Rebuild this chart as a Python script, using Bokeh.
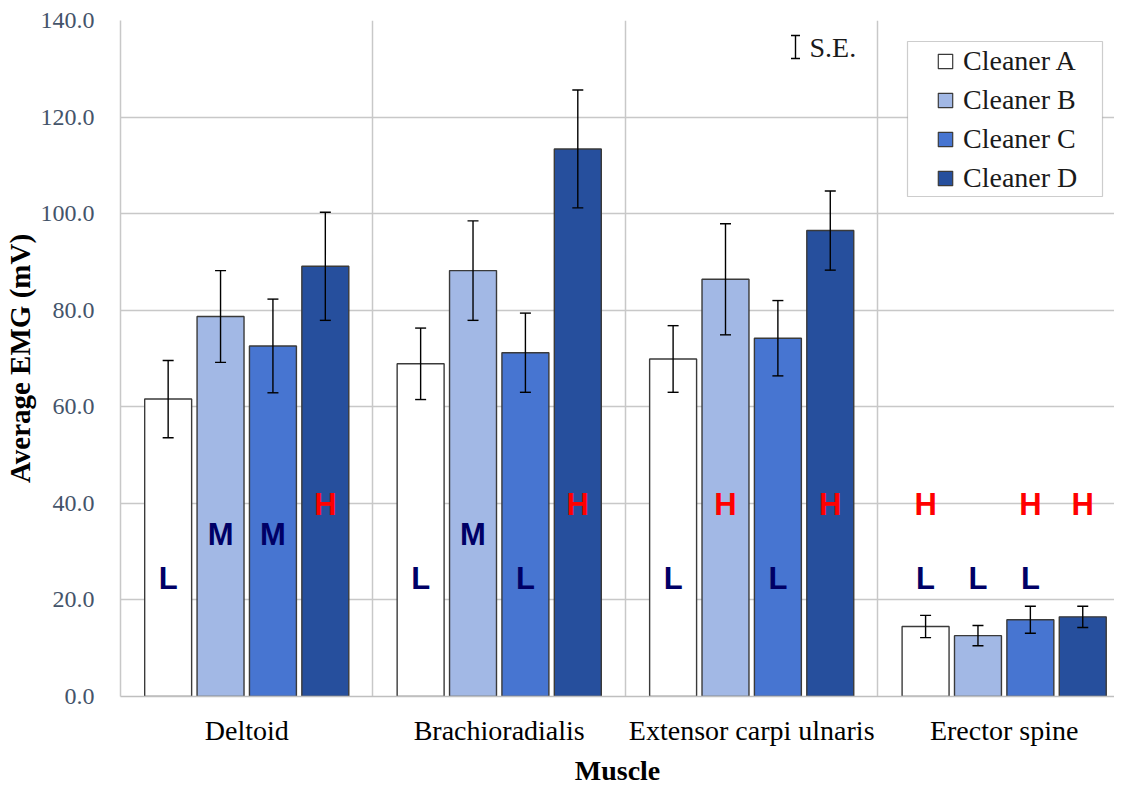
from bokeh.plotting import figure
from bokeh.models import (ColumnDataSource, Range1d, FixedTicker, Whisker, TeeHead,
                          Legend, LegendItem, Label, NumeralTickFormatter, BoxAnnotation)
from bokeh.core.properties import value
from bokeh.embed import file_html
from bokeh.resources import INLINE

# ---------------- data ----------------
muscles = ["Deltoid", "Brachioradialis", "Extensor carpi ulnaris", "Erector spine"]
cleaners = ["Cleaner A", "Cleaner B", "Cleaner C", "Cleaner D"]
cleaner_a = [61.6, 68.9, 69.9, 14.5]
cleaner_b = [78.7, 88.2, 86.4, 12.6]
cleaner_c = [72.6, 71.2, 74.2, 15.9]
cleaner_d = [89.1, 113.4, 96.5, 16.5]
se_a = [8.0, 7.4, 6.9, 2.3]
se_b = [9.5, 10.3, 11.5, 2.1]
se_c = [9.7, 8.2, 7.8, 2.8]
se_d = [11.2, 12.2, 8.2, 2.2]
# risk level letters shown for each cleaner / muscle
letters_a = ["L", "L", "L", "LH"]
letters_b = ["M", "M", "H", "L"]
letters_c = ["M", "L", "L", "LH"]
letters_d = ["H", "H", "H", "H"]
y_ticks = [0, 20, 40, 60, 80, 100, 120, 140]

# ---------------- style / layout ----------------
bar_colors = ["#FFFFFF", "#A2B8E5", "#4775D1", "#264F9D"]
letter_colors = {"L": "#000066", "M": "#000066", "H": "#FF0000"}
letter_levels = {"L": 24.5, "M": 33.5, "H": 39.7}
serif = "Liberation Serif"
bar_step = 0.2075
bar_width = 0.186
FW, FH = 994, 676
X_END, Y_END = 3.937, 140
px_x = FW / X_END
px_y = FH / Y_END

p = figure(frame_width=FW, frame_height=FH, output_backend="svg", toolbar_location=None,
           x_range=Range1d(0, X_END), y_range=Range1d(0, Y_END),
           min_border_left=114, min_border_top=20, min_border_right=0, min_border_bottom=0,
           background_fill_color="white", border_fill_color="white")
p.outline_line_color = None

series = [cleaner_a, cleaner_b, cleaner_c, cleaner_d]
ses = [se_a, se_b, se_c, se_d]
letters = [letters_a, letters_b, letters_c, letters_d]

swatches = []
for j, (name, vals, se, lets) in enumerate(zip(cleaners, series, ses, letters)):
    xs = [i + 0.5 + (j - 1.5) * bar_step for i in range(len(muscles))]
    src = ColumnDataSource(dict(x=xs, top=vals,
                                lower=[v - s for v, s in zip(vals, se)],
                                upper=[v + s for v, s in zip(vals, se)]))
    p.vbar(x="x", top="top", bottom=0, width=bar_width, source=src,
           fill_color=bar_colors[j], line_color="#3A3A3A", line_width=1.4)
    p.add_layout(Whisker(source=src, base="x", lower="lower", upper="upper", level="overlay",
                         line_color="black", line_width=1.4,
                         upper_head=TeeHead(size=11, line_color="black", line_width=1.4),
                         lower_head=TeeHead(size=11, line_color="black", line_width=1.4)))
    tx, ty, tt, tc = [], [], [], []
    for x, s in zip(xs, lets):
        for ch in s:
            tx.append(x); ty.append(letter_levels[ch]); tt.append(ch); tc.append(letter_colors[ch])
    p.text(x=tx, y=ty, text=tt, text_color=tc, text_font=value("Liberation Sans"),
           text_font_style="bold", text_font_size="31px", text_align="center",
           text_baseline="middle")
    # legend swatch renderer (no visible points)
    r = p.scatter(x=[float("nan")], y=[float("nan")], marker="square",
                  fill_color=bar_colors[j], line_color="#3A3A3A", line_width=1.2)
    swatches.append(LegendItem(label=name, renderers=[r]))

# S.E. key
se_key = ColumnDataSource(dict(x=[(796 - 121) / px_x], lower=[Y_END - (58 - 20) / px_y],
                               upper=[Y_END - (35 - 20) / px_y]))
p.add_layout(Whisker(source=se_key, base="x", lower="lower", upper="upper", level="overlay",
                     line_color="black", line_width=1.4,
                     upper_head=TeeHead(size=9, line_color="black", line_width=1.4),
                     lower_head=TeeHead(size=9, line_color="black", line_width=1.4)))
p.add_layout(Label(x=(810 - 121) / px_x, y=Y_END - (47 - 20) / px_y, text="S.E.",
                   text_font=serif, text_font_size="28px",
                   text_baseline="middle", text_color="#1a1a1a"))

# legend frame
p.add_layout(BoxAnnotation(left=(908 - 121) / px_x, right=(1103 - 121) / px_x,
                           top=Y_END - (41 - 20) / px_y, bottom=Y_END - (196 - 20) / px_y,
                           fill_color="white", fill_alpha=1.0,
                           line_color="#595959", line_width=1.2, level="annotation"))

legend = Legend(items=swatches, location=(928 - 121, 696 - 196), orientation="vertical",
                padding=0, spacing=3, glyph_width=36, glyph_height=36,
                label_height=36, label_width=130, label_standoff=0,
                label_text_font=serif, label_text_font_size="28px",
                label_text_color="#1a1a1a", label_text_baseline="middle",
                border_line_color=None, background_fill_alpha=0.0)
p.add_layout(legend, "center")

# grids
p.xgrid.ticker = FixedTicker(ticks=[1, 2, 3])
p.xgrid.grid_line_color = "#C8C8C8"
p.xgrid.grid_line_width = 1.5
p.ygrid.ticker = FixedTicker(ticks=y_ticks)
p.ygrid.grid_line_color = "#C8C8C8"
p.ygrid.grid_line_width = 1.5

# y axis
p.yaxis.ticker = FixedTicker(ticks=y_ticks)
p.yaxis.formatter = NumeralTickFormatter(format="0.0")
p.yaxis.major_tick_line_color = None
p.yaxis.minor_tick_line_color = None
p.yaxis.major_tick_out = 0
p.yaxis.axis_line_color = "#C8C8C8"
p.yaxis.axis_line_width = 1.5
p.yaxis.major_label_standoff = 26
p.yaxis.major_label_text_font = serif
p.yaxis.major_label_text_font_size = "24px"
p.yaxis.major_label_text_color = "#44546A"
p.yaxis.axis_label = "Average EMG (mV)"
p.yaxis.axis_label_text_font = serif
p.yaxis.axis_label_text_font_style = "bold"
p.yaxis.axis_label_text_font_size = "29px"
p.yaxis.axis_label_text_color = "black"
p.yaxis.axis_label_standoff = 2

# x axis
p.xaxis.ticker = FixedTicker(ticks=[i + 0.5 for i in range(len(muscles))])
p.xaxis.major_label_overrides = {i + 0.5: m for i, m in enumerate(muscles)}
p.xaxis.major_tick_line_color = None
p.xaxis.minor_tick_line_color = None
p.xaxis.major_tick_out = 0
p.xaxis.axis_line_color = "#BFBFBF"
p.xaxis.axis_line_width = 1.5
p.xaxis.major_label_standoff = 18
p.xaxis.major_label_text_font = serif
p.xaxis.major_label_text_font_size = "28px"
p.xaxis.major_label_text_color = "black"
p.xaxis.axis_label = "Muscle"
p.xaxis.axis_label_text_font = serif
p.xaxis.axis_label_text_font_style = "bold"
p.xaxis.axis_label_text_font_size = "28px"
p.xaxis.axis_label_text_color = "black"
p.xaxis.axis_label_standoff = 6

open("out.html", "w").write(file_html(p, INLINE))
